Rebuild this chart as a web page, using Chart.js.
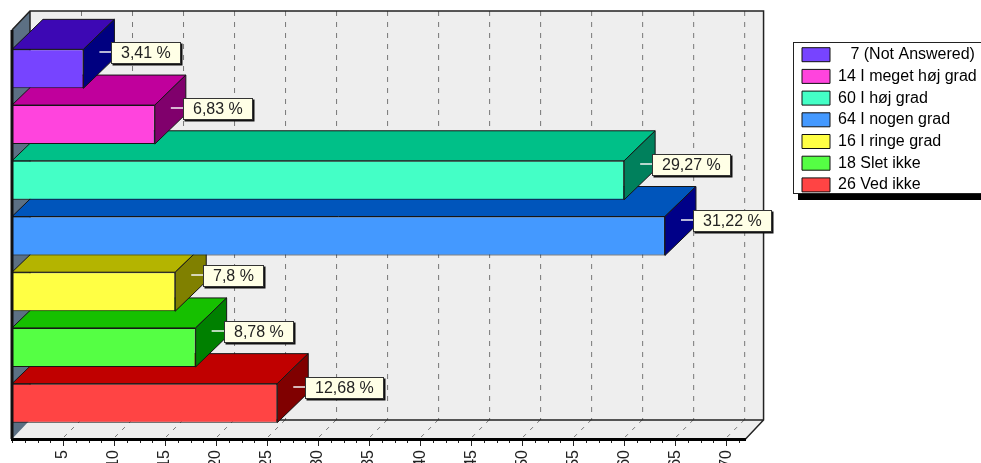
<!DOCTYPE html>
<html><head><meta charset="utf-8">
<style>html,body{margin:0;padding:0;background:#fff;overflow:hidden}canvas{display:block}</style>
<script src="https://cdn.jsdelivr.net/npm/chart.js@4"></script>
</head><body><canvas id="c" width="981" height="463"></canvas>
<script>
const categories = ['7 (Not Answered)', '14 I meget høj grad', '60 I høj grad', '64 I nogen grad', '16 I ringe grad', '18 Slet ikke', '26 Ved ikke'];
const legendLabels = ['\u2002 7 (Not Answered)', '14 I meget høj grad', '60 I høj grad', '64 I nogen grad', '16 I ringe grad', '18 Slet ikke', '26 Ved ikke'];
const values = [7, 14, 60, 64, 16, 18, 26];
const percentLabels = ['3,41 %', '6,83 %', '29,27 %', '31,22 %', '7,8 %', '8,78 %', '12,68 %'];
const frontColors = ['#7744ff', '#ff44dd', '#44ffc6', '#4499ff', '#ffff44', '#55ff44', '#ff4444'];
const topColors = ['#3d08b4', '#c0009c', '#00c088', '#0055bb', '#b4b400', '#16c000', '#c00000'];
const sideColors = ['#000080', '#80006c', '#00805c', '#000088', '#808000', '#008000', '#800000'];

const WALL_DX = 18, WALL_DY = 19, BAR_DX = 31, BAR_DY = 30, AXIS_DROP = 8, FRONT_TOP = 30;
const OUTLINE = '#161616';

function poly(ctx, pts, fill, stroke) {
  ctx.beginPath();
  pts.forEach((p, i) => i ? ctx.lineTo(p[0], p[1]) : ctx.moveTo(p[0], p[1]));
  ctx.closePath();
  if (fill) { ctx.fillStyle = fill; ctx.fill(); }
  if (stroke) { ctx.strokeStyle = stroke; ctx.lineWidth = 1; ctx.stroke(); }
}

const stage = {
  id: 'stage',
  afterLayout(chart) {
    const x = chart.scales.x;
    x.top += AXIS_DROP; x.bottom = chart.height;
    const lg = chart.legend;
    const w = lg.width, h = lg.height;
    lg.left = 796.3; lg.top = 41; lg.right = lg.left + w; lg.bottom = lg.top + h;
  },
  beforeDraw(chart) {
    const ctx = chart.ctx, x = chart.scales.x;
    const L = x.left, R = x.right, B = x.top;
    const dx = WALL_DX, dy = WALL_DY;
    ctx.save();
    // back wall and floor
    poly(ctx, [[L + dx, FRONT_TOP - dy], [R + dx, FRONT_TOP - dy], [R + dx, B - dy], [L + dx, B - dy]], '#eeeeee');
    poly(ctx, [[L, B], [L + dx, B - dy], [R + dx, B - dy], [R, B]], '#eeeeee');
    // left wall
    poly(ctx, [[L, FRONT_TOP], [L + dx, FRONT_TOP - dy], [L + dx, B - dy], [L, B]], '#5c7084');
    // wall grid
    x.ticks.forEach(t => {
      const px = x.getPixelForValue(t.value);
      ctx.strokeStyle = '#777'; ctx.lineWidth = 1;
      ctx.setLineDash([5, 6]);
      ctx.beginPath(); ctx.moveTo(px + dx + .5, FRONT_TOP - dy); ctx.lineTo(px + dx + .5, B - dy); ctx.stroke();
      ctx.setLineDash([4, 6]);
      ctx.beginPath(); ctx.moveTo(px + 1, B - 2); ctx.lineTo(px + dx, B - dy); ctx.stroke();
      ctx.setLineDash([]);
    });
    // wall outlines
    ctx.strokeStyle = '#222'; ctx.lineWidth = 1.5;
    ctx.beginPath();
    ctx.moveTo(L, FRONT_TOP); ctx.lineTo(L + dx, FRONT_TOP - dy); ctx.lineTo(R + dx, FRONT_TOP - dy);
    ctx.lineTo(R + dx, B - dy); ctx.lineTo(R, B);
    ctx.moveTo(L + dx, B - dy); ctx.lineTo(R + dx, B - dy);
    ctx.moveTo(L + dx, FRONT_TOP - dy); ctx.lineTo(L + dx, B - dy);
    ctx.stroke();
    // value axis minor ticks
    ctx.strokeStyle = '#222'; ctx.lineWidth = 1;
    for (let v = 0; v <= x.max; v += 1.25) {
      const px = Math.round(x.getPixelForValue(v)) + .5;
      ctx.beginPath(); ctx.moveTo(px, B); ctx.lineTo(px, B + 4); ctx.stroke();
    }
    // legend frame
    ctx.fillStyle = '#000'; ctx.fillRect(798, 194, 190, 6);
    ctx.fillStyle = '#fff'; ctx.fillRect(793, 42, 200, 152);
    ctx.strokeStyle = '#222'; ctx.lineWidth = 1;
    ctx.strokeRect(793.5, 42.5, 200, 151);
    ctx.restore();
  },
  beforeDatasetsDraw(chart) {
    const ctx = chart.ctx, bars = chart.getDatasetMeta(0).data;
    ctx.save();
    for (let i = bars.length - 1; i >= 0; i--) {
      const b = bars[i], p = b.getProps(['x', 'y', 'base', 'height'], true);
      const t = p.y - p.height / 2, u = p.y + p.height / 2;
      poly(ctx, [[p.base, t], [p.base + BAR_DX, t - BAR_DY], [p.x + BAR_DX, t - BAR_DY], [p.x, t]], topColors[i], OUTLINE);
      poly(ctx, [[p.x, t], [p.x + BAR_DX, t - BAR_DY], [p.x + BAR_DX, u - BAR_DY], [p.x, u]], sideColors[i], OUTLINE);
    }
    ctx.restore();
  },
  afterDatasetsDraw(chart) {
    const ctx = chart.ctx, x = chart.scales.x, bars = chart.getDatasetMeta(0).data;
    ctx.save();
    // category wall: thick axis at the front-left edge
    ctx.strokeStyle = '#111'; ctx.lineWidth = 3;
    ctx.beginPath(); ctx.moveTo(x.left, FRONT_TOP); ctx.lineTo(x.left, x.top); ctx.stroke();
    ctx.font = '16px "Liberation Sans", Arial, sans-serif';
    ctx.textBaseline = 'middle'; ctx.textAlign = 'left';
    bars.forEach((b, i) => {
      const p = b.getProps(['x', 'y', 'height'], true);
      const t = p.y - p.height / 2;
      const bx = Math.round(p.x + 28), by = Math.round(t - 7);
      const w = Math.ceil(ctx.measureText(percentLabels[i]).width) + 20, h = 22;
      ctx.strokeStyle = '#f4f4f4'; ctx.lineWidth = 1.5;
      ctx.beginPath(); ctx.moveTo(p.x + 16, by + 10); ctx.lineTo(bx, by + 10); ctx.stroke();
      ctx.fillStyle = '#111'; ctx.fillRect(bx + 1.5, by + 1.5, w, h);
      ctx.fillStyle = '#ffffe6'; ctx.fillRect(bx, by, w, h);
      ctx.strokeStyle = '#333'; ctx.lineWidth = 1; ctx.strokeRect(bx + .5, by + .5, w - 1, h - 1);
      ctx.fillStyle = '#222'; ctx.fillText(percentLabels[i], bx + 10, by + 11.5);
    });
    ctx.restore();
  }
};

new Chart(document.getElementById('c'), {
  type: 'bar',
  plugins: [stage],
  data: {
    labels: categories,
    datasets: [{
      data: values,
      backgroundColor: frontColors,
      borderColor: OUTLINE,
      borderWidth: 1,
      barPercentage: 0.7,
      categoryPercentage: 1
    }]
  },
  options: {
    indexAxis: 'y',
    responsive: false,
    animation: false,
    devicePixelRatio: 1,
    layout: { padding: { left: 12, top: 41, bottom: 32, right: 45 } },
    scales: {
      x: {
        type: 'linear', min: 0, max: 71.9,
        afterBuildTicks(s) { s.ticks = s.ticks.filter(t => t.value % 5 === 0 && t.value > 0); },
        afterFit(s) { s.height = 0; },
        border: { display: true, color: '#000', width: 3 },
        grid: { drawOnChartArea: false, drawTicks: true, tickLength: 7, tickColor: '#222', tickWidth: 1 },
        ticks: { stepSize: 5, autoSkip: false, minRotation: 90, maxRotation: 90, padding: 4, color: '#222',
                 font: { family: '"Liberation Sans", Arial, sans-serif', size: 16 } }
      },
      y: { display: false, reverse: false, offset: true }
    },
    plugins: {
      tooltip: { enabled: false },
      legend: {
        display: true, position: 'right', align: 'start',
        labels: {
          boxWidth: 28, boxHeight: 14, padding: 5.7, color: '#222',
          font: { family: '"Liberation Sans", Arial, sans-serif', size: 16 },
          generateLabels() {
            return legendLabels.map((t, i) => ({ text: t, fillStyle: frontColors[i], strokeStyle: '#111', lineWidth: 1, hidden: false, index: i }));
          }
        }
      }
    }
  }
});
</script></body></html>
